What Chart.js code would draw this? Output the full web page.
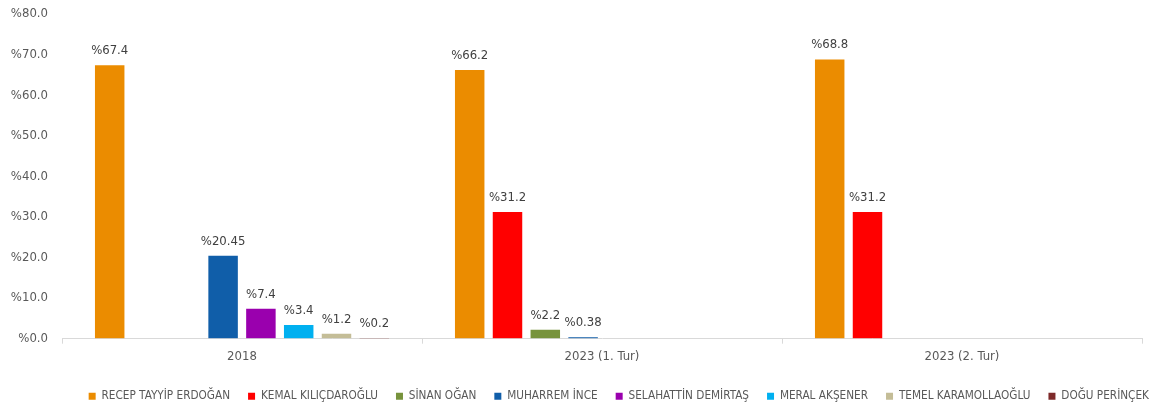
<!DOCTYPE html>
<html>
<head>
<meta charset="utf-8">
<script src="https://cdn.jsdelivr.net/npm/chart.js@4"></script>
<style>
  html, body { margin: 0; padding: 0; background: #fff; }
  #wrap { width: 1150px; height: 407px; }
</style>
</head>
<body>
<div id="wrap"><canvas id="secimChart"></canvas></div>
<script>
// Veriler
const kategoriler = ['2018', '2023 (1. Tur)', '2023 (2. Tur)'];
const adaylar = ['RECEP TAYYİP ERDOĞAN', 'KEMAL KILIÇDAROĞLU', 'SİNAN OĞAN', 'MUHARREM İNCE',
                 'SELAHATTİN DEMİRTAŞ', 'MERAL AKŞENER', 'TEMEL KARAMOLLAOĞLU', 'DOĞU PERİNÇEK'];
const erdogan = [67.4, 66.2, 68.8];
const kilicdaroglu = [null, 31.2, 31.2];
const ogan = [null, 2.2, null];
const ince = [20.45, 0.38, null];
const demirtas = [7.4, null, null];
const aksener = [3.4, null, null];
const karamollaoglu = [1.2, null, null];
const perincek = [0.2, null, null];
const yTicks = [0, 10, 20, 30, 40, 50, 60, 70, 80];

const renkler = ['#EB8C00', '#FF0000', '#77933C', '#105EA9', '#9A00AE', '#00B0F0', '#C4BD97', '#7E2A2A'];
const seriler = [erdogan, kilicdaroglu, ogan, ince, demirtas, aksener, karamollaoglu, perincek];

const fontAile = '"Liberation Sans Narrow", "DejaVu Sans Condensed", "Liberation Sans", sans-serif';

// Çubukların üstüne etiket
const etiketEklentisi = {
    id: 'etiketler',
    afterDatasetsDraw(chart) {
        const ctx = chart.ctx;
        ctx.save();
        ctx.font = '13px ' + fontAile;
        ctx.fillStyle = '#404040';
        ctx.textAlign = 'center';
        ctx.textBaseline = 'bottom';
        chart.data.datasets.forEach((ds, i) => {
            const meta = chart.getDatasetMeta(i);
            meta.data.forEach((bar, j) => {
                const v = ds.data[j];
                if (v === null || v === undefined) return;
                ctx.fillText('%' + v, bar.x, bar.y - 8);
            });
        });
        ctx.restore();
    }
};

// Lejantı biraz sağa ve aşağı kaydır
const lejantKaydir = {
    id: 'lejantKaydir',
    afterLayout(chart) {
        if (chart.legend) {
            chart.legend.left += 25;
            chart.legend.right += 25;
            chart.legend.top += 3;
            chart.legend.bottom += 3;
        }
    }
};

new Chart(document.getElementById('secimChart'), {
    type: 'bar',
    data: {
        labels: kategoriler,
        datasets: adaylar.map((ad, i) => ({
            label: ad,
            data: seriler[i],
            backgroundColor: renkler[i],
            borderWidth: 0,
            categoryPercentage: 0.84,
            barPercentage: 0.78
        }))
    },
    options: {
        responsive: true,
        maintainAspectRatio: false,
        animation: false,
        layout: { padding: { top: 14, right: 8, left: 0, bottom: -2 } },
        scales: {
            y: {
                min: 0,
                max: 80,
                afterBuildTicks: (s) => { s.ticks = yTicks.map(v => ({ value: v })); },
                afterFit: (s) => { s.width = 62; },
                // görünmez tik çizgisi: etiketleri eksenden uzak tutmak için
                grid: { display: true, drawOnChartArea: false, drawTicks: true, tickLength: 14, color: 'rgba(0,0,0,0)' },
                border: { display: false },
                ticks: {
                    padding: 0,
                    color: '#595959',
                    font: { family: fontAile, size: 13 },
                    callback: (v) => '%' + Number(v).toFixed(1)
                }
            },
            x: {
                grid: { drawOnChartArea: false, drawTicks: true, tickLength: 5, color: '#D9D9D9' },
                border: { display: true, color: '#D9D9D9' },
                ticks: {
                    padding: 5,
                    color: '#595959',
                    font: { family: fontAile, size: 13 }
                }
            }
        },
        plugins: {
            legend: {
                position: 'bottom',
                align: 'end',
                labels: {
                    boxWidth: 7,
                    boxHeight: 7,
                    padding: 18,
                    color: '#595959',
                    font: { family: fontAile, size: 11.7 }
                }
            },
            tooltip: { enabled: false }
        }
    },
    plugins: [etiketEklentisi, lejantKaydir]
});
</script>
</body>
</html>
